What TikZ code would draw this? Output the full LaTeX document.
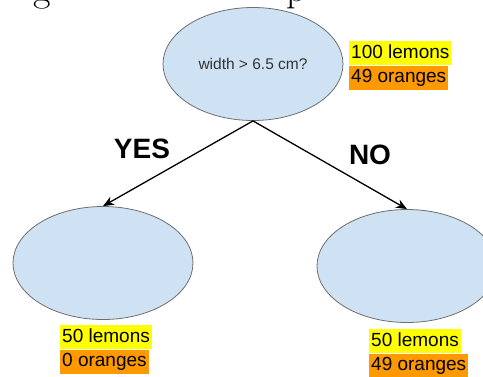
\documentclass[tikz,border=0pt]{standalone}
\usepackage{fontspec}
\newfontfamily\labelfont{Liberation Sans}
\usetikzlibrary{positioning,arrows.meta,shapes,calc}
\definecolor{leafblue}{HTML}{CFE2F3}
\definecolor{edgegray}{HTML}{6E6E6E}
\definecolor{lemonyellow}{HTML}{FFFF00}
\definecolor{orangefill}{HTML}{FF9900}
\definecolor{textgray}{HTML}{333333}

\begin{document}
\begin{tikzpicture}[
    x=1pt, y=-1pt,
    question/.style={ellipse, draw=edgegray, fill=leafblue, minimum width=180pt, minimum height=113pt, inner sep=0pt, line width=0.8pt},
    count/.style={inner xsep=2pt, inner ysep=3pt, text height=14pt, text depth=4pt, font=\labelfont\fontsize{19}{22}\selectfont, anchor=north west},
    lemons/.style={count, fill=lemonyellow},
    oranges/.style={count, fill=orangefill},
    arrow/.style={-{Stealth[length=11pt,width=9pt]}, line width=1.3pt},
    answer/.style={font=\labelfont\bfseries\fontsize{28}{32}\selectfont}
]
\useasboundingbox (0,0) rectangle (483,376);

% Heading cut off at the top
\node[font=\fontsize{38}{40}\selectfont, anchor=base west, inner sep=0pt] (headg) at (33,1) {g};
\node[font=\fontsize{38}{40}\selectfont, anchor=base west, inner sep=0pt] (headp) at (286,1) {p};

% Question
\node[question, font=\labelfont\fontsize{15.5}{18}\selectfont, text=textgray] (root) at (253,64) {width > 6.5 cm?};
\node[lemons] (rootlemons) at (349,41) {100 lemons};
\node[oranges] (rootoranges) at (rootlemons.south west) {49 oranges};

% Leaves
\node[question] (yesleaf) at (103,263) {};
\node[question] (noleaf) at (407,266) {};

\node[lemons] (yeslemons) at (60,325) {50 lemons};
\node[oranges] (yesoranges) at (yeslemons.south west) {0 oranges};

\node[lemons] (nolemons) at (369,329) {50 lemons};
\node[oranges] (nooranges) at (nolemons.south west) {49 oranges};

% Branches
\draw[arrow] (root.south) -- (yesleaf.north);
\draw[arrow] (root.south) -- (noleaf.north);
\node[answer] (yes) at (142,149) {YES};
\node[answer] (no) at (370,155) {NO};

\end{tikzpicture}
\end{document}
